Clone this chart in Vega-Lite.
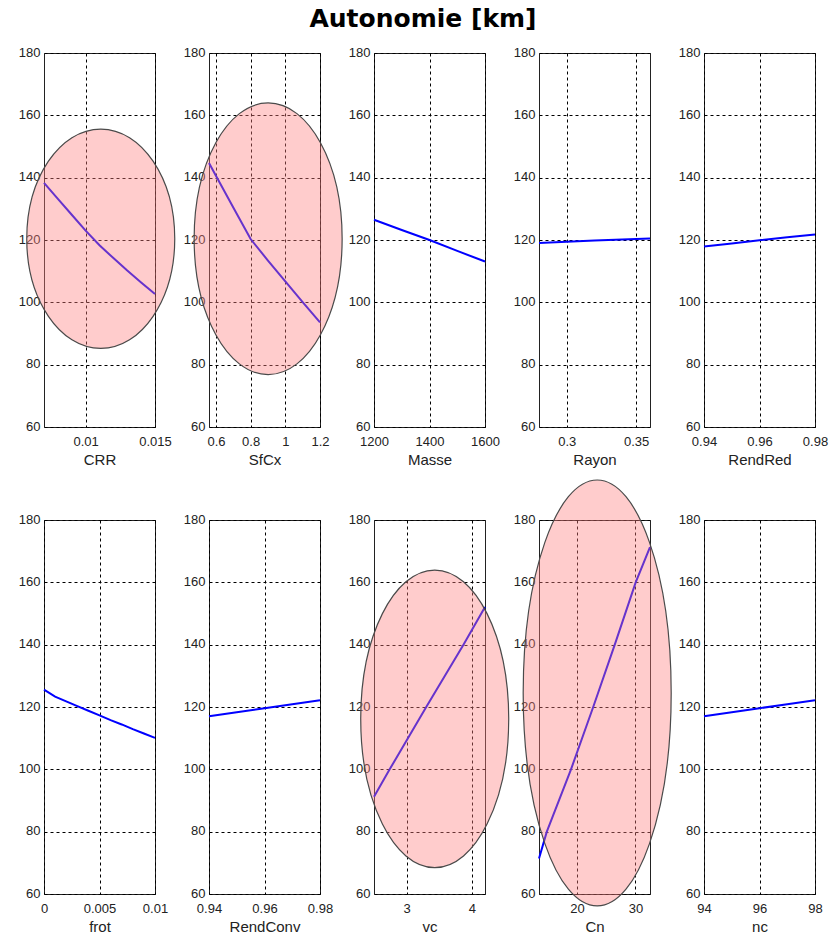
{
  "$schema": "https://vega.github.io/schema/vega-lite/v6.json",
  "padding": {"left": 17, "top": 6, "right": 0, "bottom": 0},
  "background": "#ffffff",
  "title": {"text": "Autonomie [km]", "font": "DejaVu Sans", "fontSize": 25, "fontWeight": "bold", "color": "#000000", "anchor": "middle", "offset": 14},
  "datasets": {
    "curves": [
      {"param": "CRR", "x": 0.007, "y": 138.3}, {"param": "CRR", "x": 0.008, "y": 133.2}, {"param": "CRR", "x": 0.009, "y": 128.1},
      {"param": "CRR", "x": 0.010, "y": 123.0}, {"param": "CRR", "x": 0.011, "y": 118.3}, {"param": "CRR", "x": 0.012, "y": 114.2},
      {"param": "CRR", "x": 0.013, "y": 110.2}, {"param": "CRR", "x": 0.014, "y": 106.4}, {"param": "CRR", "x": 0.015, "y": 102.7},
      {"param": "SfCx", "x": 0.56, "y": 144.7}, {"param": "SfCx", "x": 0.6, "y": 140.6}, {"param": "SfCx", "x": 0.7, "y": 130.4},
      {"param": "SfCx", "x": 0.8, "y": 120.3}, {"param": "SfCx", "x": 0.9, "y": 113.4}, {"param": "SfCx", "x": 1.0, "y": 106.7},
      {"param": "SfCx", "x": 1.1, "y": 100.1}, {"param": "SfCx", "x": 1.2, "y": 93.6},
      {"param": "Masse", "x": 1200, "y": 126.5}, {"param": "Masse", "x": 1300, "y": 123.2}, {"param": "Masse", "x": 1400, "y": 120.0},
      {"param": "Masse", "x": 1500, "y": 116.5}, {"param": "Masse", "x": 1600, "y": 113.1},
      {"param": "Rayon", "x": 0.28, "y": 119.0}, {"param": "Rayon", "x": 0.30, "y": 119.4}, {"param": "Rayon", "x": 0.32, "y": 119.8},
      {"param": "Rayon", "x": 0.34, "y": 120.2}, {"param": "Rayon", "x": 0.36, "y": 120.5},
      {"param": "RendRed", "x": 0.94, "y": 117.9}, {"param": "RendRed", "x": 0.95, "y": 118.9}, {"param": "RendRed", "x": 0.96, "y": 119.9},
      {"param": "RendRed", "x": 0.97, "y": 120.9}, {"param": "RendRed", "x": 0.98, "y": 121.8},
      {"param": "frot", "x": 0, "y": 125.6}, {"param": "frot", "x": 0.001, "y": 123.3}, {"param": "frot", "x": 0.002, "y": 121.8},
      {"param": "frot", "x": 0.003, "y": 120.3}, {"param": "frot", "x": 0.004, "y": 118.8}, {"param": "frot", "x": 0.005, "y": 117.3},
      {"param": "frot", "x": 0.006, "y": 115.8}, {"param": "frot", "x": 0.007, "y": 114.4}, {"param": "frot", "x": 0.008, "y": 112.9},
      {"param": "frot", "x": 0.009, "y": 111.5}, {"param": "frot", "x": 0.01, "y": 110.1},
      {"param": "RendConv", "x": 0.94, "y": 117.0}, {"param": "RendConv", "x": 0.95, "y": 118.3}, {"param": "RendConv", "x": 0.96, "y": 119.6},
      {"param": "RendConv", "x": 0.97, "y": 120.9}, {"param": "RendConv", "x": 0.98, "y": 122.2},
      {"param": "vc", "x": 2.5, "y": 91.2}, {"param": "vc", "x": 2.74, "y": 100}, {"param": "vc", "x": 3.3, "y": 120},
      {"param": "vc", "x": 3.87, "y": 140}, {"param": "vc", "x": 4.2, "y": 152.1},
      {"param": "Cn", "x": 13.5, "y": 71.4}, {"param": "Cn", "x": 14.84, "y": 80}, {"param": "Cn", "x": 18.98, "y": 100},
      {"param": "Cn", "x": 22.78, "y": 120}, {"param": "Cn", "x": 26.47, "y": 140}, {"param": "Cn", "x": 30.05, "y": 160},
      {"param": "Cn", "x": 32.5, "y": 171.3},
      {"param": "nc", "x": 94, "y": 117.0}, {"param": "nc", "x": 95, "y": 118.3}, {"param": "nc", "x": 96, "y": 119.6},
      {"param": "nc", "x": 97, "y": 120.9}, {"param": "nc", "x": 98, "y": 122.2}
    ],
    "highlights": [
      {"param": "CRR", "x": 0.01109, "y": 120.4},
      {"param": "SfCx", "x": 0.901, "y": 120.4},
      {"param": "vc", "x": 3.43, "y": 116.2},
      {"param": "Cn", "x": 23.46, "y": 124.5}
    ]
  },
  "columns": 5,
  "spacing": {"row": 93, "column": 54},
  "bounds": "flush",
  "concat": [
    {"width": 111, "height": 374, "layer": [
      {"data": {"name": "curves"}, "transform": [{"filter": "datum.param === 'CRR'"}],
       "mark": {"type": "line", "color": "#0000ff", "strokeWidth": 2},
       "encoding": {
         "x": {"field": "x", "type": "quantitative", "scale": {"domain": [0.007, 0.015], "nice": false, "zero": false}, "axis": {"title": "CRR", "values": [0.01, 0.015]}},
         "y": {"field": "y", "type": "quantitative", "scale": {"domain": [60, 180], "nice": false, "zero": false}, "axis": {"title": null, "values": [60, 80, 100, 120, 140, 160, 180]}}}},
      {"data": {"name": "highlights"}, "transform": [{"filter": "datum.param === 'CRR'"}],
       "mark": {"type": "point", "shape": "M0.74,0C0.74,0.6059,0.4087,1.097,0,1.097C-0.4087,1.097,-0.74,0.6059,-0.74,0C-0.74,-0.6059,-0.4087,-1.097,0,-1.097C0.4087,-1.097,0.74,-0.6059,0.74,0Z", "size": 40000, "filled": true, "fill": "#ff8080", "fillOpacity": 0.4, "stroke": "#4a4a4a", "strokeWidth": 1.2, "strokeOpacity": 1, "opacity": 1},
       "encoding": {"x": {"field": "x", "type": "quantitative"}, "y": {"field": "y", "type": "quantitative"}}}
    ]},
    {"width": 111, "height": 374, "layer": [
      {"data": {"name": "curves"}, "transform": [{"filter": "datum.param === 'SfCx'"}],
       "mark": {"type": "line", "color": "#0000ff", "strokeWidth": 2},
       "encoding": {
         "x": {"field": "x", "type": "quantitative", "scale": {"domain": [0.56, 1.2], "nice": false, "zero": false}, "axis": {"title": "SfCx", "values": [0.6, 0.8, 1, 1.2]}},
         "y": {"field": "y", "type": "quantitative", "scale": {"domain": [60, 180], "nice": false, "zero": false}, "axis": {"title": null, "values": [60, 80, 100, 120, 140, 160, 180]}}}},
      {"data": {"name": "highlights"}, "transform": [{"filter": "datum.param === 'SfCx'"}],
       "mark": {"type": "point", "shape": "M0.74,0C0.74,0.75,0.4087,1.358,0,1.358C-0.4087,1.358,-0.74,0.75,-0.74,0C-0.74,-0.75,-0.4087,-1.358,0,-1.358C0.4087,-1.358,0.74,-0.75,0.74,0Z", "size": 40000, "filled": true, "fill": "#ff8080", "fillOpacity": 0.4, "stroke": "#4a4a4a", "strokeWidth": 1.2, "strokeOpacity": 1, "opacity": 1},
       "encoding": {"x": {"field": "x", "type": "quantitative"}, "y": {"field": "y", "type": "quantitative"}}}
    ]},
    {"width": 111, "height": 374, "layer": [
      {"data": {"name": "curves"}, "transform": [{"filter": "datum.param === 'Masse'"}],
       "mark": {"type": "line", "color": "#0000ff", "strokeWidth": 2},
       "encoding": {
         "x": {"field": "x", "type": "quantitative", "scale": {"domain": [1200, 1600], "nice": false, "zero": false}, "axis": {"title": "Masse", "values": [1200, 1400, 1600]}},
         "y": {"field": "y", "type": "quantitative", "scale": {"domain": [60, 180], "nice": false, "zero": false}, "axis": {"title": null, "values": [60, 80, 100, 120, 140, 160, 180]}}}}
    ]},
    {"width": 111, "height": 374, "layer": [
      {"data": {"name": "curves"}, "transform": [{"filter": "datum.param === 'Rayon'"}],
       "mark": {"type": "line", "color": "#0000ff", "strokeWidth": 2},
       "encoding": {
         "x": {"field": "x", "type": "quantitative", "scale": {"domain": [0.28, 0.36], "nice": false, "zero": false}, "axis": {"title": "Rayon", "values": [0.3, 0.35]}},
         "y": {"field": "y", "type": "quantitative", "scale": {"domain": [60, 180], "nice": false, "zero": false}, "axis": {"title": null, "values": [60, 80, 100, 120, 140, 160, 180]}}}}
    ]},
    {"width": 111, "height": 374, "layer": [
      {"data": {"name": "curves"}, "transform": [{"filter": "datum.param === 'RendRed'"}],
       "mark": {"type": "line", "color": "#0000ff", "strokeWidth": 2},
       "encoding": {
         "x": {"field": "x", "type": "quantitative", "scale": {"domain": [0.94, 0.98], "nice": false, "zero": false}, "axis": {"title": "RendRed", "values": [0.94, 0.96, 0.98]}},
         "y": {"field": "y", "type": "quantitative", "scale": {"domain": [60, 180], "nice": false, "zero": false}, "axis": {"title": null, "values": [60, 80, 100, 120, 140, 160, 180]}}}}
    ]},
    {"width": 111, "height": 374, "layer": [
      {"data": {"name": "curves"}, "transform": [{"filter": "datum.param === 'frot'"}],
       "mark": {"type": "line", "color": "#0000ff", "strokeWidth": 2},
       "encoding": {
         "x": {"field": "x", "type": "quantitative", "scale": {"domain": [0, 0.01], "nice": false, "zero": false}, "axis": {"title": "frot", "values": [0, 0.005, 0.01]}},
         "y": {"field": "y", "type": "quantitative", "scale": {"domain": [60, 180], "nice": false, "zero": false}, "axis": {"title": null, "values": [60, 80, 100, 120, 140, 160, 180]}}}}
    ]},
    {"width": 111, "height": 374, "layer": [
      {"data": {"name": "curves"}, "transform": [{"filter": "datum.param === 'RendConv'"}],
       "mark": {"type": "line", "color": "#0000ff", "strokeWidth": 2},
       "encoding": {
         "x": {"field": "x", "type": "quantitative", "scale": {"domain": [0.94, 0.98], "nice": false, "zero": false}, "axis": {"title": "RendConv", "values": [0.94, 0.96, 0.98]}},
         "y": {"field": "y", "type": "quantitative", "scale": {"domain": [60, 180], "nice": false, "zero": false}, "axis": {"title": null, "values": [60, 80, 100, 120, 140, 160, 180]}}}}
    ]},
    {"width": 111, "height": 374, "layer": [
      {"data": {"name": "curves"}, "transform": [{"filter": "datum.param === 'vc'"}],
       "mark": {"type": "line", "color": "#0000ff", "strokeWidth": 2},
       "encoding": {
         "x": {"field": "x", "type": "quantitative", "scale": {"domain": [2.5, 4.2], "nice": false, "zero": false}, "axis": {"title": "vc", "values": [3, 4]}},
         "y": {"field": "y", "type": "quantitative", "scale": {"domain": [60, 180], "nice": false, "zero": false}, "axis": {"title": null, "values": [60, 80, 100, 120, 140, 160, 180]}}}},
      {"data": {"name": "highlights"}, "transform": [{"filter": "datum.param === 'vc'"}],
       "mark": {"type": "point", "shape": "M0.74,0C0.74,0.8218,0.4087,1.488,0,1.488C-0.4087,1.488,-0.74,0.8218,-0.74,0C-0.74,-0.8218,-0.4087,-1.488,0,-1.488C0.4087,-1.488,0.74,-0.8218,0.74,0Z", "size": 40000, "filled": true, "fill": "#ff8080", "fillOpacity": 0.4, "stroke": "#4a4a4a", "strokeWidth": 1.2, "strokeOpacity": 1, "opacity": 1},
       "encoding": {"x": {"field": "x", "type": "quantitative"}, "y": {"field": "y", "type": "quantitative"}}}
    ]},
    {"width": 111, "height": 374, "layer": [
      {"data": {"name": "curves"}, "transform": [{"filter": "datum.param === 'Cn'"}],
       "mark": {"type": "line", "color": "#0000ff", "strokeWidth": 2},
       "encoding": {
         "x": {"field": "x", "type": "quantitative", "scale": {"domain": [13.5, 32.5], "nice": false, "zero": false}, "axis": {"title": "Cn", "values": [20, 30]}},
         "y": {"field": "y", "type": "quantitative", "scale": {"domain": [60, 180], "nice": false, "zero": false}, "axis": {"title": null, "values": [60, 80, 100, 120, 140, 160, 180]}}}},
      {"data": {"name": "highlights"}, "transform": [{"filter": "datum.param === 'Cn'"}],
       "mark": {"type": "point", "shape": "M0.74,0C0.74,1.1764,0.4087,2.13,0,2.13C-0.4087,2.13,-0.74,1.1764,-0.74,0C-0.74,-1.1764,-0.4087,-2.13,0,-2.13C0.4087,-2.13,0.74,-1.1764,0.74,0Z", "size": 40000, "filled": true, "fill": "#ff8080", "fillOpacity": 0.4, "stroke": "#4a4a4a", "strokeWidth": 1.2, "strokeOpacity": 1, "opacity": 1},
       "encoding": {"x": {"field": "x", "type": "quantitative"}, "y": {"field": "y", "type": "quantitative"}}}
    ]},
    {"width": 111, "height": 374, "layer": [
      {"data": {"name": "curves"}, "transform": [{"filter": "datum.param === 'nc'"}],
       "mark": {"type": "line", "color": "#0000ff", "strokeWidth": 2},
       "encoding": {
         "x": {"field": "x", "type": "quantitative", "scale": {"domain": [94, 98], "nice": false, "zero": false}, "axis": {"title": "nc", "values": [94, 96, 98]}},
         "y": {"field": "y", "type": "quantitative", "scale": {"domain": [60, 180], "nice": false, "zero": false}, "axis": {"title": null, "values": [60, 80, 100, 120, 140, 160, 180]}}}}
    ]}
  ],
  "config": {
    "view": {"stroke": "#222222", "strokeWidth": 1},
    "axis": {
      "labelFont": "Liberation Sans", "labelFontSize": 13, "labelColor": "#222222",
      "titleFont": "Liberation Sans", "titleFontSize": 15, "titleFontWeight": "normal", "titleColor": "#222222",
      "ticks": false, "domain": false, "grid": true, "gridColor": "#000000", "gridDash": [3, 3], "gridOpacity": 1, "gridWidth": 1,
      "labelFlush": false, "labelOverlap": false, "tickCount": 20, "format": "~r"
    },
    "axisX": {"labelPadding": 8, "titlePadding": 4},
    "axisY": {"labelPadding": 4, "labelOffset": -1}
  }
}
